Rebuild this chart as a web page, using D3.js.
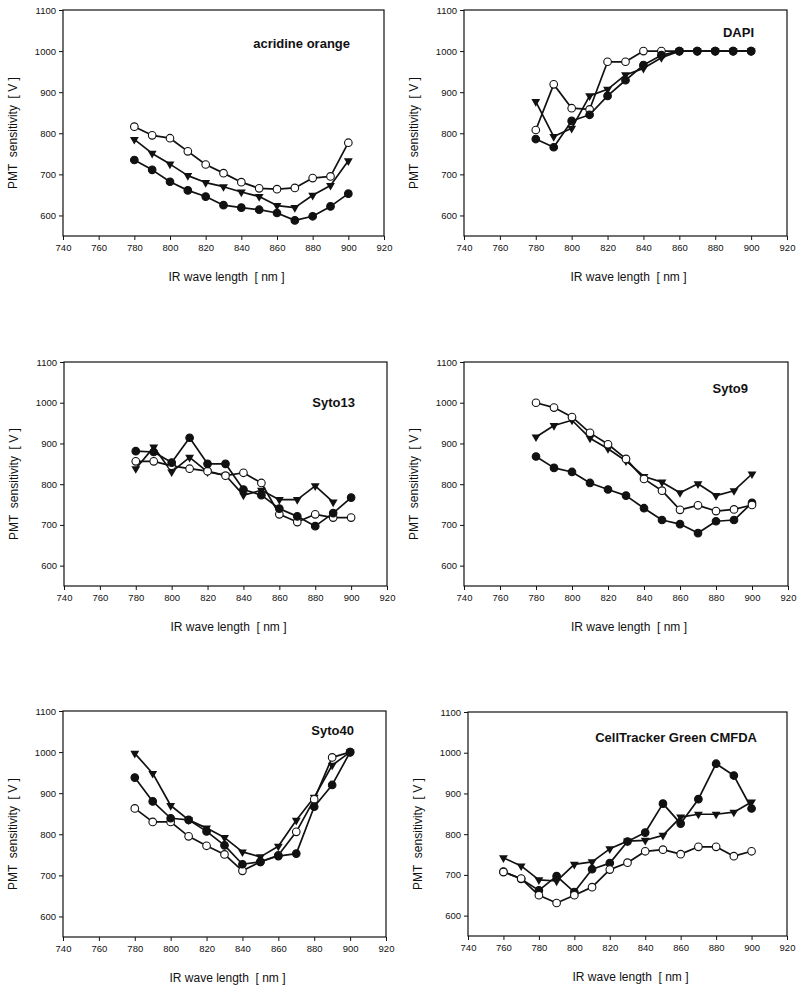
<!DOCTYPE html>
<html lang="en">
<head>
    <meta charset="UTF-8">
    <title>PMT sensitivity vs IR wave length</title>
    <script src="https://d3js.org/d3.v7.min.js"></script>
    <style>
        body {
            margin: 0;
            background: #fff;
        }
        svg {
            display: block;
        }
        text {
            font-family: "Liberation Sans", Arial, sans-serif;
            fill: #111;
        }
        .tick text {
            font-size: 9.5px;
        }
        .axis-title {
            font-size: 12px;
        }
        .dye {
            font-size: 13px;
            font-weight: bold;
        }
    </style>
</head>
<body>
    <script>
        // wave lengths (nm)
        const wl780 = [780, 790, 800, 810, 820, 830, 840, 850, 860, 870, 880, 890, 900];
        const wl760 = [760, 770, 780, 790, 800, 810, 820, 830, 840, 850, 860, 870, 880, 890, 900];
        const wl780to890 = [780, 790, 800, 810, 820, 830, 840, 850, 860, 870, 880, 890];

        const xTicks = [740, 760, 780, 800, 820, 840, 860, 880, 900, 920];
        const yTicks = [600, 700, 800, 900, 1000, 1100];

        const dyeNames = ["acridine orange", "DAPI", "Syto13", "Syto9", "Syto40", "CellTracker Green CMFDA"];

        // PMT sensitivity [V], three series per dye: open circle, triangle, filled circle
        const acridineOpen   = [816, 795, 788, 756, 724, 703, 681, 666, 664, 667, 691, 695, 777];
        const acridineTri    = [785, 751, 725, 697, 680, 670, 657, 646, 624, 619, 649, 673, 733];
        const acridineFilled = [735, 711, 682, 661, 646, 625, 619, 614, 606, 588, 598, 622, 653];

        const dapiOpen   = [808, 919, 861, 858, 974, 974, 1000, 1000, 1000, 1000, 1000, 1000, 1000];
        const dapiTri    = [877, 792, 812, 891, 907, 942, 958, 984, 1000, 1000, 1000, 1000, 1000];
        const dapiFilled = [786, 766, 830, 845, 891, 929, 966, 990, 1000, 1000, 1000, 1000, 1000];

        const syto13Open   = [856, 856, 845, 838, 832, 821, 828, 803, 726, 707, 726, 718, 718];
        const syto13Tri    = [838, 891, 830, 866, 830, 822, 773, 785, 762, 762, 796, 756];
        const syto13Filled = [881, 879, 853, 914, 850, 850, 787, 773, 740, 721, 697, 729, 767];

        const syto9Open   = [1000, 988, 965, 926, 898, 862, 813, 784, 737, 748, 734, 738, 749];
        const syto9Tri    = [916, 944, 957, 913, 887, 857, 819, 805, 779, 801, 772, 784, 825];
        const syto9Filled = [868, 840, 830, 803, 787, 772, 741, 712, 702, 680, 709, 712, 754];

        const syto40Open   = [863, 830, 830, 795, 772, 751, 711, 733, 749, 806, 885, 987, 1000];
        const syto40Tri    = [997, 948, 870, 835, 815, 792, 757, 745, 771, 834, 890, 968, 1000];
        const syto40Filled = [938, 880, 839, 835, 807, 773, 727, 733, 747, 753, 867, 920, 1000];

        const cellOpen   = [707, 691, 650, 631, 650, 670, 713, 730, 758, 762, 751, 769, 769, 746, 758];
        const cellTri    = [742, 722, 688, 685, 726, 732, 764, 783, 785, 797, 842, 849, 849, 854, 879];
        const cellFilled = [708, 690, 662, 697, 658, 714, 729, 782, 804, 875, 826, 886, 973, 944, 863];

        const panelSeries = [
            [{type: "tri", x: wl780, y: acridineTri}, {type: "open", x: wl780, y: acridineOpen}, {type: "filled", x: wl780, y: acridineFilled}],
            [{type: "tri", x: wl780, y: dapiTri}, {type: "open", x: wl780, y: dapiOpen}, {type: "filled", x: wl780, y: dapiFilled}],
            [{type: "tri", x: wl780to890, y: syto13Tri}, {type: "open", x: wl780, y: syto13Open}, {type: "filled", x: wl780, y: syto13Filled}],
            [{type: "tri", x: wl780, y: syto9Tri}, {type: "filled", x: wl780, y: syto9Filled}, {type: "open", x: wl780, y: syto9Open}],
            [{type: "tri", x: wl780, y: syto40Tri}, {type: "open", x: wl780, y: syto40Open}, {type: "filled", x: wl780, y: syto40Filled}],
            [{type: "tri", x: wl760, y: cellTri}, {type: "filled", x: wl760, y: cellFilled}, {type: "open", x: wl760, y: cellOpen}]
        ];

        // plot box of each panel, and where its dye name sits
        const layout = [
            {left: 63, top: 10, w: 321, h: 226, titleX: 350, titleY: 48},
            {left: 464, top: 10, w: 323, h: 226, titleX: 754, titleY: 37},
            {left: 64, top: 362, w: 323, h: 224, titleX: 355, titleY: 407},
            {left: 464, top: 362, w: 324, h: 224, titleX: 748, titleY: 393},
            {left: 63, top: 711, w: 323, h: 226, titleX: 354, titleY: 735},
            {left: 468, top: 712, w: 319, h: 224, titleX: 757, titleY: 742}
        ];

        const width = 800, height = 991;
        const svg = d3.select("body").append("svg")
            .attr("width", width)
            .attr("height", height);

        const triangle = d3.symbol().type(d3.symbolTriangle).size(34);

        layout.forEach((p, i) => {
            const x = d3.scaleLinear().domain([740, 920]).range([p.left, p.left + p.w]);
            const y = d3.scaleLinear().domain([550, 1100]).range([p.top + p.h, p.top]);
            const g = svg.append("g");

            g.append("rect")
                .attr("x", p.left).attr("y", p.top)
                .attr("width", p.w).attr("height", p.h)
                .attr("fill", "none")
                .attr("stroke", "#111")
                .attr("stroke-width", 1.2);

            const xAxis = g.append("g")
                .attr("transform", `translate(0,${p.top + p.h})`)
                .call(d3.axisBottom(x).tickValues(xTicks).tickSize(4).tickPadding(4).tickFormat(d3.format("d")));
            const yAxis = g.append("g")
                .attr("transform", `translate(${p.left},0)`)
                .call(d3.axisLeft(y).tickValues(yTicks).tickSize(4).tickPadding(3).tickFormat(d3.format("d")));
            [xAxis, yAxis].forEach(a => {
                a.select(".domain").remove();
                a.selectAll("line").attr("stroke", "#111");
                a.selectAll("text").attr("fill", "#111");
            });

            g.append("text")
                .attr("class", "axis-title")
                .attr("x", p.left + p.w / 2 + 3)
                .attr("y", p.top + p.h + 45)
                .attr("text-anchor", "middle")
                .text("IR wave length  [ nm ]")
                .attr("xml:space", "preserve");

            g.append("text")
                .attr("class", "axis-title")
                .attr("transform", `translate(${p.left - 46},${p.top + p.h / 2 + 10}) rotate(-90)`)
                .attr("text-anchor", "middle")
                .attr("xml:space", "preserve")
                .text("PMT  sensitivity  [ V ]");

            g.append("text")
                .attr("class", "dye")
                .attr("x", p.titleX)
                .attr("y", p.titleY)
                .attr("text-anchor", "end")
                .text(dyeNames[i]);

            const line = d3.line().x(d => x(d[0])).y(d => y(d[1]));

            panelSeries[i].forEach(s => {
                const pts = s.x.map((w, k) => [w, s.y[k]]);
                g.append("path")
                    .datum(pts)
                    .attr("d", line)
                    .attr("fill", "none")
                    .attr("stroke", "#111")
                    .attr("stroke-width", 1.7)
                    .attr("stroke-linejoin", "round");

                if (s.type === "tri") {
                    g.selectAll(null).data(pts).enter()
                        .append("path")
                        .attr("d", triangle)
                        .attr("transform", d => `translate(${x(d[0])},${y(d[1])}) rotate(180)`)
                        .attr("fill", "#111");
                } else {
                    g.selectAll(null).data(pts).enter()
                        .append("circle")
                        .attr("cx", d => x(d[0]))
                        .attr("cy", d => y(d[1]))
                        .attr("r", 3.8)
                        .attr("fill", s.type === "open" ? "#fff" : "#111")
                        .attr("stroke", "#111")
                        .attr("stroke-width", 1.1);
                }
            });
        });
    </script>
</body>
</html>
